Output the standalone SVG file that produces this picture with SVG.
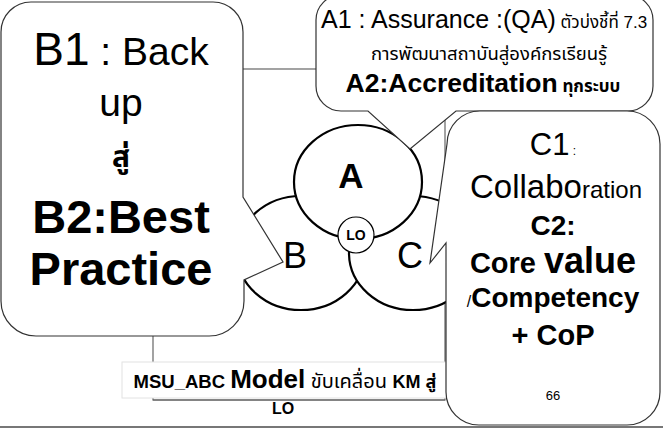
<svg xmlns="http://www.w3.org/2000/svg" width="663" height="430" viewBox="0 0 663 430">
  <style>
    text { font-family: "Liberation Sans", Arial, "Noto Sans Thai", "Noto Sans", sans-serif; fill: #000; }
    .b { font-weight: bold; }
    .mid { text-anchor: middle; }
    .frame { fill: none; stroke: #666; stroke-width: 1.2; }
    .ring { fill: #fff; stroke: #000; stroke-width: 2.2; }
    .callout { fill: #fff; stroke: #333; stroke-width: 1.2; }
    .caption-box { fill: #fff; stroke: #e2e2e2; stroke-width: 1; }
  </style>

  <rect width="663" height="430" fill="#fff"/>

  <!-- background frame of the model -->
  <rect class="frame" x="153" y="69" width="292" height="331"/>

  <!-- the three overlapping circles -->
  <g id="node-B">
    <ellipse class="ring" cx="301" cy="253" rx="64" ry="57"/>
    <text class="mid" x="295" y="268" font-size="36">B</text>
  </g>
  <g id="node-C">
    <ellipse class="ring" cx="413" cy="253" rx="64" ry="57"/>
    <text class="mid" x="410" y="268" font-size="36">C</text>
  </g>
  <g id="node-A">
    <ellipse class="ring" cx="358" cy="182" rx="64" ry="57"/>
    <text class="mid b" x="351" y="188" font-size="35">A</text>
  </g>
  <g id="node-LO">
    <circle cx="356" cy="235" r="18" fill="#fff" stroke="#000" stroke-width="1.2"/>
    <text class="mid b" x="356" y="240" font-size="14">LO</text>
  </g>

  <!-- caption -->
  <g id="caption">
    <rect class="caption-box" x="122" y="362" width="325" height="36"/>
    <line x1="153" y1="400" x2="445" y2="400" stroke="#666" stroke-width="1.2"/>
    <text class="mid b" x="285" y="388"><tspan font-size="18.5">MSU_ABC </tspan><tspan font-size="26">Model</tspan><tspan font-size="20" font-weight="normal"> ขับเคลื่อน </tspan><tspan font-size="18">KM สู่</tspan></text>
    <text class="mid b" x="283" y="414" font-size="16">LO</text>
  </g>

  <!-- callout B -->
  <g id="callout-B">
    <path class="callout" d="M 31 2 H 213 A 30 30 0 0 1 243 32 V 197 L 283 262 L 244 280 V 301 A 35 35 0 0 1 208 336 H 36 A 35 35 0 0 1 1 301 V 32 A 30 30 0 0 1 31 2 Z"/>
    <text class="mid" x="121" y="65"><tspan font-size="46">B1</tspan><tspan font-size="39"> : Back</tspan></text>
    <text class="mid" x="121" y="116" font-size="39">up</text>
    <text class="mid b" x="121" y="167" font-size="30">สู่</text>
    <text class="mid b" x="121" y="233" font-size="47">B2:Best</text>
    <text class="mid b" x="121" y="285" font-size="47">Practice</text>
  </g>

  <!-- callout A -->
  <g id="callout-A">
    <path class="callout" d="M 341 -5 H 628 A 25 25 0 0 1 653 20 V 86 A 25 25 0 0 1 628 111 H 456 L 410 149 L 368 111 H 341 A 25 25 0 0 1 316 86 V 20 A 25 25 0 0 1 341 -5 Z"/>
    <text x="321" y="28"><tspan font-size="25">A1 : Assurance :(QA)</tspan><tspan font-size="17"> ตัวบ่งชี้ที่ 7.3</tspan></text>
    <text class="mid" x="489" y="60" font-size="18.5">การพัฒนาสถาบันสู่องค์กรเรียนรู้</text>
    <text class="mid b" x="483" y="92"><tspan font-size="26.5">A2:Accreditation</tspan><tspan font-size="17"> ทุกระบบ</tspan></text>
  </g>

  <!-- callout C -->
  <g id="callout-C">
    <path class="callout" d="M 480 111 H 627 A 33 33 0 0 1 660 144 V 392 A 33 33 0 0 1 627 425 H 479 A 33 33 0 0 1 446 392 V 243 L 430 263 L 447 144 A 33 33 0 0 1 480 111 Z"/>
    <text class="mid" x="553" y="155"><tspan font-size="31">C1</tspan><tspan font-size="12"> :</tspan></text>
    <text class="mid" x="556" y="198"><tspan font-size="33">Collabo</tspan><tspan font-size="24">ration</tspan></text>
    <text class="mid b" x="553" y="235" font-size="28">C2:</text>
    <text class="mid b" x="553" y="273"><tspan font-size="29">Core </tspan><tspan font-size="36">value</tspan></text>
    <text class="mid b" x="553" y="307"><tspan font-size="16" font-weight="normal">/</tspan><tspan font-size="28">Competency</tspan></text>
    <text class="mid b" x="553" y="345" font-size="29">+ CoP</text>
    <text class="mid" x="553" y="400" font-size="13">66</text>
  </g>

  <!-- slide bottom rule -->
  <line x1="0" y1="427" x2="663" y2="427" stroke="#777" stroke-width="2"/>
</svg>
